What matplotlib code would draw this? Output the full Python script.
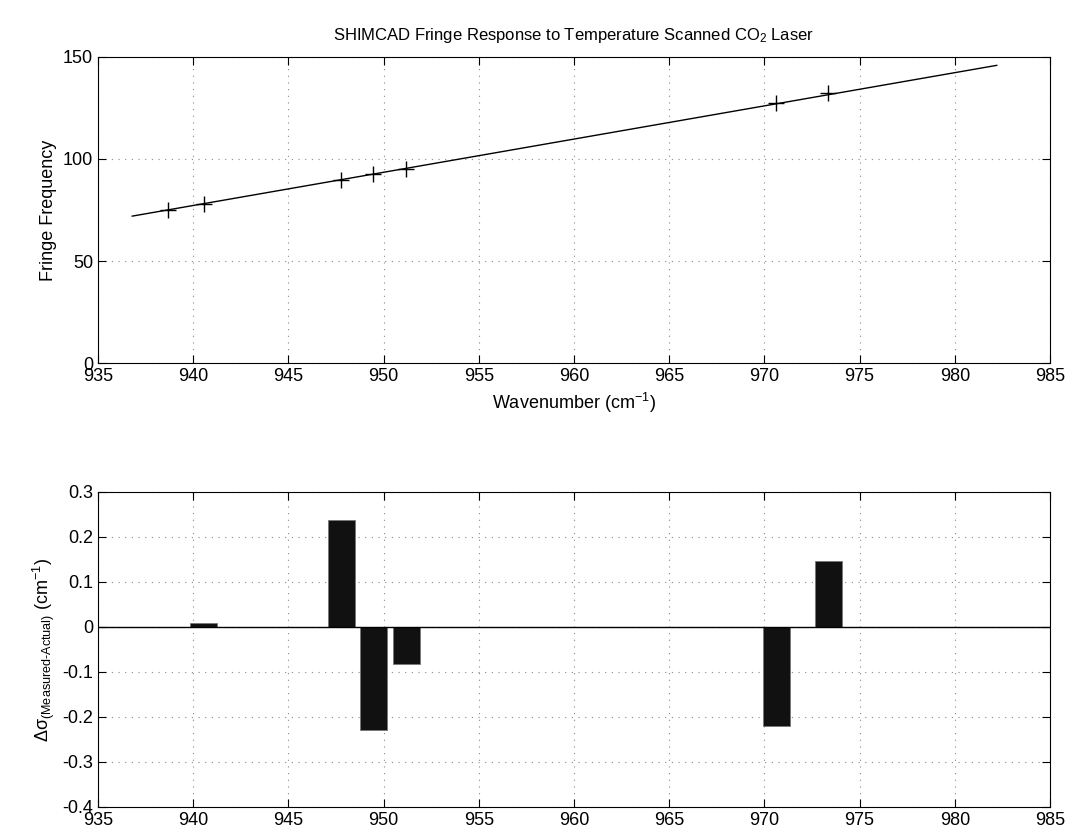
import numpy as np
import matplotlib
matplotlib.use("Agg")
import matplotlib.pyplot as plt

plt.rcParams["font.family"] = ["Liberation Sans", "DejaVu Sans"]
plt.rcParams["mathtext.fontset"] = "custom"
plt.rcParams["mathtext.rm"] = "Liberation Sans"
plt.rcParams["mathtext.it"] = "Liberation Sans"
plt.rcParams["mathtext.default"] = "regular"
plt.rcParams["axes.unicode_minus"] = False

# measured points
wavenumber = [938.7, 940.55, 947.75, 949.46, 951.18, 970.62, 973.36]
fringe_freq = [74.8, 77.9, 89.9, 92.6, 95.2, 127.3, 132.4]

# linear fit endpoints
fit_x = [936.8, 982.2]
fit_y = [72.0, 145.9]

# residuals
resid_x = [940.56, 947.79, 949.49, 951.21, 970.63, 973.37]
resid = [0.009, 0.238, -0.229, -0.082, -0.219, 0.147]

xticks = np.arange(935, 986, 5)

fig = plt.figure(figsize=(10.73, 8.38), dpi=100)
ax1 = fig.add_axes([0.0913, 0.5668, 0.8873, 0.3652])
ax2 = fig.add_axes([0.0913, 0.037, 0.8873, 0.3759])

grid_kw = dict(color="#888888", linestyle=(0, (1, 5)), linewidth=0.8)

# ----- top panel -----
ax1.plot(fit_x, fit_y, color="black", linewidth=1.0)
ax1.plot(wavenumber, fringe_freq, "+", color="black", markersize=11, markeredgewidth=1.0)
ax1.set_xlim(935, 985)
ax1.set_ylim(0, 150)
ax1.set_xticks(xticks)
ax1.set_yticks([0, 50, 100, 150])
ax1.grid(True, **grid_kw)
ax1.set_xlabel("Wavenumber (cm$^{-1}$)", fontsize=13)
ax1.set_ylabel("Fringe Frequency", fontsize=13)
ax1.set_title("SHIMCAD Fringe Response to Temperature Scanned CO$_2$ Laser",
              fontsize=12, pad=12)

# ----- bottom panel -----
ax2.bar(resid_x, resid, width=1.42, color="#111111", edgecolor="#777777",
        linewidth=0.6, zorder=3)
ax2.axhline(0, color="black", linewidth=1.0, zorder=4)
ax2.set_xlim(935, 985)
ax2.set_ylim(-0.4, 0.3)
ax2.set_xticks(xticks)
ax2.set_yticks(np.round(np.arange(-0.4, 0.31, 0.1), 1))
ax2.set_yticklabels(["-0.4", "-0.3", "-0.2", "-0.1", "0", "0.1", "0.2", "0.3"])
ax2.grid(True, **grid_kw)
ax2.set_ylabel(r"$\Delta\sigma_{\text{(Measured-Actual)}}$ (cm$^{-1}$)", fontsize=13)

for ax in (ax1, ax2):
    ax.tick_params(direction="in", length=6, width=0.8, labelsize=13,
                   top=True, right=True)
    for s in ax.spines.values():
        s.set_linewidth(0.8)
    ax.set_axisbelow(True)

fig.savefig("out.png", dpi=100)
